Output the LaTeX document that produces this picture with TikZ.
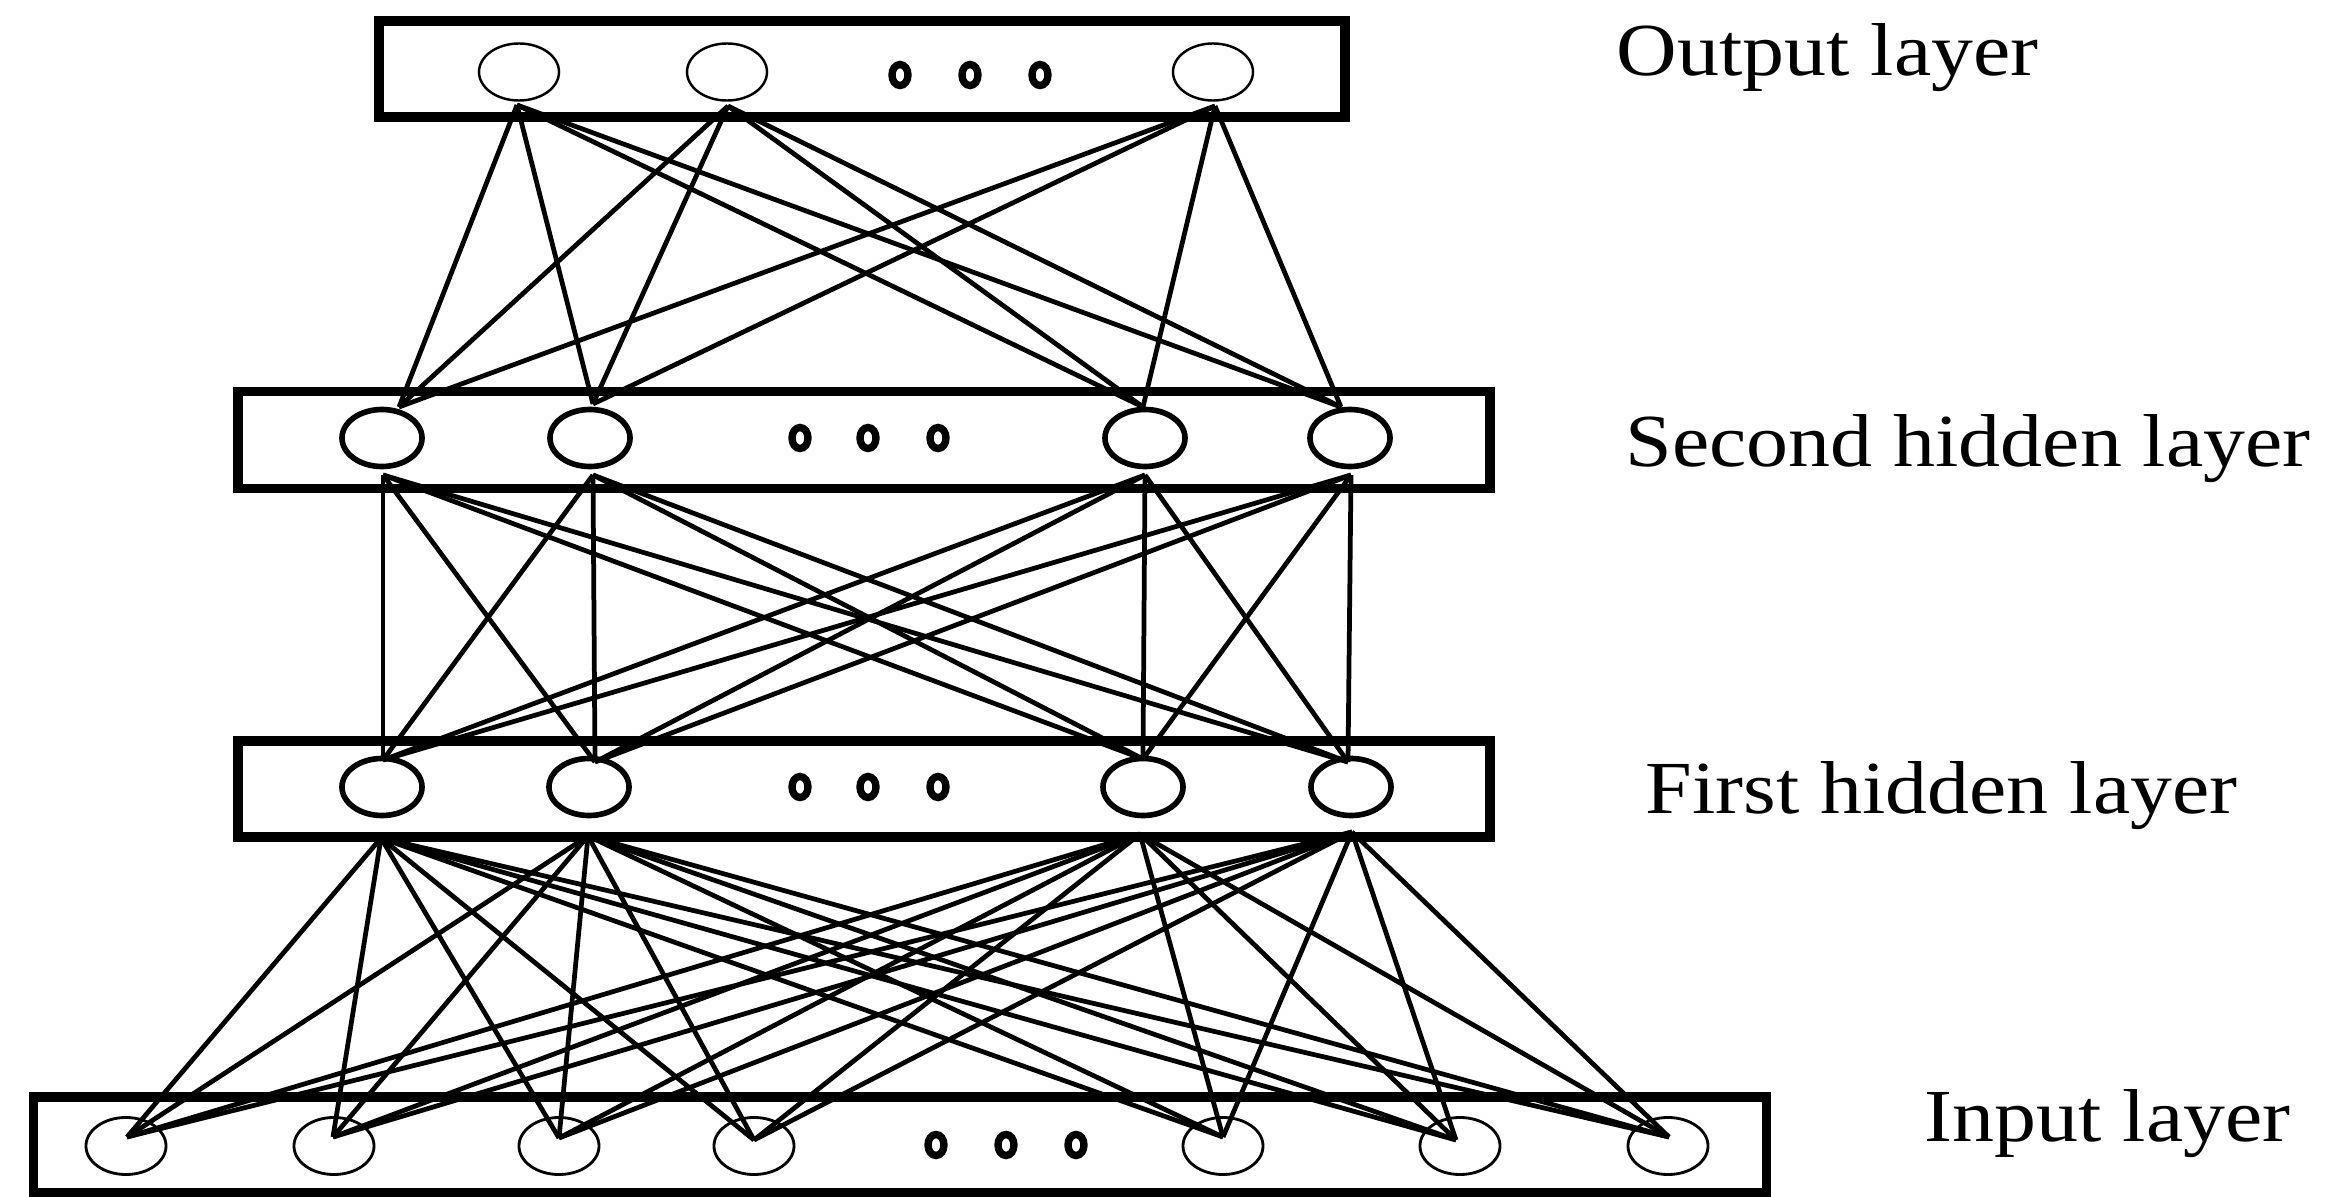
\documentclass[tikz,border=0pt]{standalone}
\usepackage{fontspec}
\setmainfont{Liberation Serif}
\usetikzlibrary{shapes.geometric}
\begin{document}
\begin{tikzpicture}[x=0.01cm,y=-0.01cm,
  layerbox/.style={draw, line width=2.8pt, inner sep=0pt, rectangle},
  neuron/.style={draw, ellipse, inner sep=0pt, minimum width=0.8cm, minimum height=0.57cm},
  thinneuron/.style={neuron, line width=0.7pt},
  thickneuron/.style={neuron, line width=1.6pt},
  inneuron/.style={neuron, line width=0.8pt},
  dotnode/.style={draw, ellipse, inner sep=0pt, line width=2.1pt, minimum width=0.16cm, minimum height=0.21cm},
  link/.style={line width=1.35pt},
  lab/.style={anchor=base west, inner sep=0pt, font=\fontsize{21.3}{25}\selectfont}]
\useasboundingbox (0,0) rectangle (2332,1197);

% layer boxes
\node[layerbox, minimum width=9.65cm, minimum height=0.96cm] (outbox) at (862,69) {};
\node[layerbox, minimum width=12.51cm, minimum height=0.97cm] (secbox) at (864,440) {};
\node[layerbox, minimum width=12.51cm, minimum height=0.96cm] (firbox) at (864,789) {};
\node[layerbox, minimum width=17.32cm, minimum height=0.96cm] (inbox) at (900,1145) {};

% attach points
\coordinate (od1) at (517,105);
\coordinate (od2) at (728,106);
\coordinate (od3) at (1215,106);
\coordinate (su1) at (399,407);
\coordinate (su2) at (593,404);
\coordinate (su3) at (1143,407);
\coordinate (su4) at (1341,407);
\coordinate (sd1) at (383,475);
\coordinate (sd2) at (593,475);
\coordinate (sd3) at (1145,475);
\coordinate (sd4) at (1351,475);
\coordinate (fu1) at (383,760);
\coordinate (fu2) at (595,762);
\coordinate (fu3) at (1143,759);
\coordinate (fu4) at (1348,762);
\coordinate (fd1) at (381,838);
\coordinate (fd2) at (588,836);
\coordinate (fd3) at (1140,834);
\coordinate (fd4) at (1352,832);
\coordinate (iu1) at (127,1137);
\coordinate (iu2) at (333,1137);
\coordinate (iu3) at (559,1138);
\coordinate (iu4) at (754,1140);
\coordinate (iu5) at (1223,1137);
\coordinate (iu6) at (1456,1140);
\coordinate (iu7) at (1669,1137);

% connections
\foreach \a in {1,2,3}{\foreach \b in {1,2,3,4}{\draw[link] (od\a) -- (su\b);}}
\foreach \a in {1,2,3,4}{\foreach \b in {1,2,3,4}{\draw[link] (sd\a) -- (fu\b);}}
\foreach \a in {1,2,3,4}{\foreach \b in {1,...,7}{\draw[link] (fd\a) -- (iu\b);}}

% output neurons
\node[thinneuron] (o1) at (519,72) {};
\node[thinneuron] (o2) at (727,72) {};
\node[thinneuron] (o3) at (1213,72) {};
\node[dotnode] (od1x) at (900,75) {};
\node[dotnode] (od2x) at (970,75) {};
\node[dotnode] (od3x) at (1040,75) {};

% second hidden
\node[thickneuron] (s1) at (382,438) {};
\node[thickneuron] (s2) at (590,438) {};
\node[thickneuron] (s3) at (1145,438) {};
\node[thickneuron] (s4) at (1350,438) {};
\node[dotnode] (sd1x) at (800,438) {};
\node[dotnode] (sd2x) at (868,438) {};
\node[dotnode] (sd3x) at (938,438) {};

% first hidden
\node[thickneuron] (f1) at (382,787) {};
\node[thickneuron] (f2) at (589,787) {};
\node[thickneuron] (f3) at (1143,787) {};
\node[thickneuron] (f4) at (1351,787) {};
\node[dotnode] (fd1x) at (800,787) {};
\node[dotnode] (fd2x) at (868,787) {};
\node[dotnode] (fd3x) at (938,787) {};

% input
\node[inneuron] (i1) at (126,1146) {};
\node[inneuron] (i2) at (334,1146) {};
\node[inneuron] (i3) at (559,1146) {};
\node[inneuron] (i4) at (754,1146) {};
\node[inneuron] (i5) at (1223,1146) {};
\node[inneuron] (i6) at (1460,1146) {};
\node[inneuron] (i7) at (1668,1146) {};
\node[dotnode] (id1x) at (936,1145) {};
\node[dotnode] (id2x) at (1006,1145) {};
\node[dotnode] (id3x) at (1076,1145) {};

% labels
\node[lab] (lout) at (1616,76) {\scalebox{1.12}[1]{Output layer}};
\node[lab] (lsec) at (1625,466) {\scalebox{1.12}[1]{Second hidden layer}};
\node[lab] (lfir) at (1645,813) {\scalebox{1.12}[1]{First hidden layer}};
\node[lab] (linp) at (1924,1141) {\scalebox{1.12}[1]{Input layer}};
\end{tikzpicture}
\end{document}
